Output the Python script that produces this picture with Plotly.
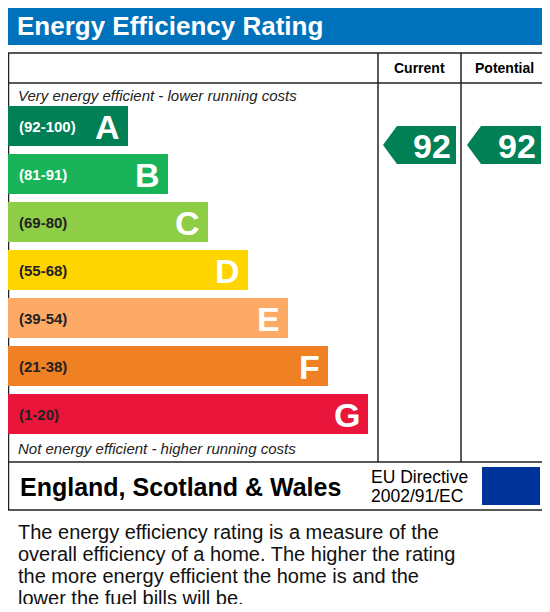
import plotly.graph_objects as go
import numpy as np

letters = ["A", "B", "C", "D", "E", "F", "G"]
ranges = ["(92-100)", "(81-91)", "(69-80)", "(55-68)", "(39-54)", "(21-38)", "(1-20)"]
lows = [92, 81, 69, 55, 39, 21, 1]
colors = ["#008054", "#19b459", "#8dce46", "#ffd500", "#fcaa65", "#ef8023", "#e9153b"]
range_text_colors = ["white", "white", "#222", "#222", "#222", "#222", "#222"]
current = 92
potential = 92

F = "Liberation Sans, Arial, sans-serif"
shapes, ann = [], []

def rect(x0, y0, x1, y1, fill=None, line=None, w=1.5):
    shapes.append(dict(type="rect", x0=x0, y0=y0, x1=x1, y1=y1, xref="x", yref="y",
                       fillcolor=fill or "rgba(0,0,0,0)",
                       line=dict(color=line or "rgba(0,0,0,0)", width=w if line else 0)))

def text(x, y, s, size, color="black", bold=False, italic=False, xanchor="left", yanchor="middle"):
    if bold: s = "<b>" + s + "</b>"
    if italic: s = "<i>" + s + "</i>"
    ann.append(dict(x=x, y=y, xref="x", yref="y", text=s, showarrow=False, xanchor=xanchor,
                    yanchor=yanchor, font=dict(family=F, size=size, color=color)))

# title bar
rect(5, 5, 547, 45, fill="#0072bc")
text(15, 26, "Energy Efficiency Rating", 26, "white", bold=True)

# frame
rect(8.5, 53, 547, 510, line="#222", w=1.5)
shapes.append(dict(type="line", x0=6, x1=548, y0=83, y1=83, line=dict(color="#222", width=1.5)))
shapes.append(dict(type="line", x0=6, x1=548, y0=462, y1=462, line=dict(color="#222", width=1.5)))
for xv in (378, 461):
    shapes.append(dict(type="line", x0=xv, x1=xv, y0=53, y1=462, line=dict(color="#222", width=1.5)))
text(419, 68, "Current", 14, bold=True, xanchor="center")
text(504, 68, "Potential", 14, bold=True, xanchor="center")
text(16, 95, "Very energy efficient - lower running costs", 15, "#222", italic=True)
text(16, 448, "Not energy efficient - higher running costs", 15, "#222", italic=True)

band_top = [106 + 48 * i for i in range(7)]
for i, L in enumerate(letters):
    y0 = band_top[i]; x1 = 128 + 40 * i
    rect(8, y0, x1, y0 + 40, fill=colors[i])
    text(17, y0 + 20, ranges[i], 15, range_text_colors[i], bold=True)
    text(x1 - 6, y0 + 21, L, 34, "white", bold=True, xanchor="right")

def band_of(v):
    for i, lo in enumerate(lows):
        if v >= lo: return i
    return 6

def arrow(xl, xr, v):
    i = band_of(v)
    y0 = band_top[i] + 20; y1 = y0 + 38
    ym = (y0 + y1) / 2
    shapes.append(dict(type="path", xref="x", yref="y",
                       path=f"M {xl},{ym} L {xl+14},{y0} L {xr},{y0} L {xr},{y1} L {xl+14},{y1} Z",
                       fillcolor=colors[i], line=dict(width=0)))
    text(xr - 3, ym + 1, str(v), 34, "white", bold=True, xanchor="right")

arrow(383, 456, current)
arrow(467, 541, potential)

text(18, 487, "England, Scotland & Wales", 25, bold=True)
text(369, 477, "EU Directive", 17.5)
text(369, 496, "2002/91/EC", 17.5)
rect(482, 467, 540, 505, fill="#003399")
ang = np.linspace(0, 2 * np.pi, 13)[:-1]
stars = go.Scatter(x=511 + 13 * np.cos(ang), y=486 + 13 * np.sin(ang), mode="markers",
                   marker=dict(symbol="star", size=6, color="#ffdd00"), hoverinfo="skip")

body = ["The energy efficiency rating is a measure of the",
        "overall efficiency of a home. The higher the rating",
        "the more energy efficient the home is and the",
        "lower the fuel bills will be."]
for k, line in enumerate(body):
    text(16, 532 + 22 * k, line, 20, "#111")

fig = go.Figure(stars)
fig.update_layout(width=534, height=596, margin=dict(l=0, r=0, t=0, b=0),
                  paper_bgcolor="white", plot_bgcolor="white", showlegend=False,
                  shapes=shapes, annotations=ann,
                  xaxis=dict(range=[8, 542], visible=False, fixedrange=True),
                  yaxis=dict(range=[604, 8], visible=False, fixedrange=True))
fig.write_html("out.html")
